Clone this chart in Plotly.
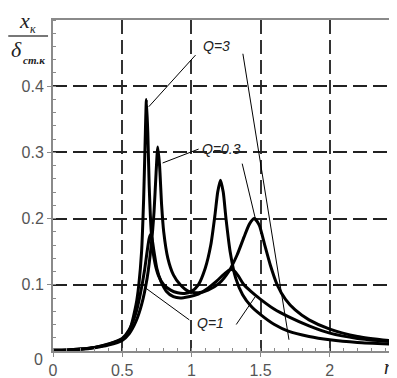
import plotly.graph_objects as go

# ---------------- data ----------------
eta_q3 = [0, 0.1, 0.2, 0.3, 0.4, 0.5, 0.55, 0.6, 0.62, 0.64, 0.655, 0.665, 0.675, 0.685, 0.695,
          0.71, 0.73, 0.76, 0.8, 0.85, 0.9, 0.95, 1.0, 1.05, 1.1, 1.14, 1.17, 1.19, 1.21, 1.23,
          1.25, 1.28, 1.32, 1.37, 1.43, 1.5, 1.6, 1.7, 1.85, 2.0, 2.2, 2.5]
amp_q3 = [0.001, 0.0015, 0.003, 0.0055, 0.010, 0.018, 0.03, 0.07, 0.10, 0.15, 0.23, 0.31, 0.38, 0.33, 0.25,
          0.18, 0.14, 0.115, 0.10, 0.092, 0.088, 0.087, 0.09, 0.10, 0.125, 0.16, 0.205, 0.24, 0.258, 0.24,
          0.20, 0.15, 0.11, 0.085, 0.068, 0.055, 0.04, 0.03, 0.022, 0.017, 0.013, 0.010]

eta_q03 = [0, 0.1, 0.2, 0.3, 0.4, 0.5, 0.55, 0.6, 0.64, 0.68, 0.71, 0.73, 0.745, 0.757, 0.77, 0.785,
           0.8, 0.83, 0.87, 0.92, 0.98, 1.05, 1.12, 1.2, 1.27, 1.33, 1.38, 1.42, 1.455, 1.49, 1.53,
           1.57, 1.62, 1.68, 1.75, 1.85, 2.0, 2.2, 2.5]
amp_q03 = [0.001, 0.0013, 0.0025, 0.005, 0.009, 0.016, 0.026, 0.045, 0.07, 0.11, 0.16, 0.21, 0.27, 0.308, 0.28, 0.22,
           0.18, 0.14, 0.115, 0.10, 0.09, 0.088, 0.092, 0.102, 0.12, 0.145, 0.172, 0.192, 0.20, 0.19, 0.16,
           0.13, 0.10, 0.078, 0.062, 0.047, 0.033, 0.022, 0.014]

eta_q1 = [0, 0.1, 0.2, 0.3, 0.4, 0.5, 0.55, 0.6, 0.63, 0.66, 0.68, 0.695, 0.705, 0.715, 0.73, 0.75,
          0.78, 0.82, 0.87, 0.92, 0.98, 1.05, 1.12, 1.18, 1.23, 1.27, 1.29, 1.31, 1.34, 1.38, 1.43,
          1.5, 1.6, 1.7, 1.85, 2.0, 2.2, 2.5]
amp_q1 = [0.001, 0.0015, 0.003, 0.0055, 0.0105, 0.019, 0.032, 0.058, 0.085, 0.12, 0.15, 0.17, 0.176, 0.17, 0.15, 0.125,
          0.105, 0.09, 0.082, 0.08, 0.082, 0.086, 0.095, 0.105, 0.115, 0.122, 0.123, 0.121, 0.113, 0.10, 0.09,
          0.078, 0.063, 0.052, 0.038, 0.027, 0.019, 0.013]

x_ticks = [0, 0.5, 1, 1.5, 2]
x_tick_text = ["0", "0.5", "1", "1.5", "2"]
y_ticks = [0.1, 0.2, 0.3, 0.4]
y_tick_text = ["0.1", "0.2", "0.3", "0.4"]

# labels with their leader lines (data coordinates)
labels = ["<i>Q=3</i>", "<i>Q=0.3</i>", "<i>Q=1</i>"]
label_pos = [(1.18, 0.461), (1.216, 0.305), (1.138, 0.042)]
leaders = [
    [(1.03, 0.447, 0.692, 0.369), (1.372, 0.449, 1.705, 0.017)],
    [(1.052, 0.305, 0.792, 0.284), (1.367, 0.283, 1.461, 0.201)],
    [(0.985, 0.047, 0.67, 0.095), (1.324, 0.040, 1.461, 0.082)],
]

# ---------------- figure ----------------
W, H = 397, 378
ML, MR, MT, MB = 45, 4, 12, 35
PW, PH = W - ML - MR, H - MT - MB


def px2paper(px, py):
    return (px - ML) / PW, (H - MB - py) / PH


fig = go.Figure()
for ex, ay in [(eta_q3, amp_q3), (eta_q03, amp_q03), (eta_q1, amp_q1)]:
    fig.add_trace(go.Scatter(x=ex, y=ay, mode="lines",
                             line=dict(color="black", width=3, shape="spline", smoothing=0.6),
                             showlegend=False, hoverinfo="skip"))

shapes = []
for group in leaders:
    for x0, y0, x1, y1 in group:
        shapes.append(dict(type="line", xref="x", yref="y", x0=x0, y0=y0, x1=x1, y1=y1,
                           line=dict(color="black", width=1)))
# fraction bar of the y label
fx0, fy = px2paper(0, 28)
fx1, _ = px2paper(40, 28)
shapes.append(dict(type="line", xref="paper", yref="paper", x0=fx0, x1=fx1, y0=fy, y1=fy,
                   line=dict(color="#777777", width=2)))

annotations = []
for txt, (ax_, ay_) in zip(labels, label_pos):
    annotations.append(dict(x=ax_, y=ay_, xref="x", yref="y", text=txt, showarrow=False,
                            font=dict(family="Liberation Sans, Arial", size=14, color="#222222")))


def add_px_text(text, px, py, size, family="Liberation Serif, Times New Roman", color="#222222"):
    xp, yp = px2paper(px, py)
    annotations.append(dict(x=xp, y=yp, xref="paper", yref="paper", text=text, showarrow=False,
                            xanchor="center", yanchor="middle",
                            font=dict(family=family, size=size, color=color)))


add_px_text("<i>x</i>", 16, 12, 22)
add_px_text("<i>к</i>", 25, 21, 12)
add_px_text("<i>δ</i>", 8, 41, 22)
add_px_text("<i><b>ст.к</b></i>", 26, 52, 11)
add_px_text("<i>η</i>", 383, 359, 20)
add_px_text("0", 30, 351, 16, family="Liberation Sans, Arial", color="#555555")

fig.update_layout(
    width=W, height=H,
    margin=dict(l=ML, r=MR, t=MT, b=MB),
    paper_bgcolor="white", plot_bgcolor="white",
    shapes=shapes, annotations=annotations,
    xaxis=dict(range=[0, 2.5], tickvals=x_ticks, ticktext=x_tick_text,
               showgrid=True, gridcolor="#333333", gridwidth=1.5, griddash="14px,6px",
               zeroline=False, showline=True, linecolor="#8a8a8a", linewidth=2, mirror=True,
               ticks="outside", ticklen=4, tickcolor="#8a8a8a",
               minor=dict(dtick=0.1, ticks="inside", ticklen=3, tickcolor="#8a8a8a", showgrid=False),
               tickfont=dict(family="Liberation Sans, Arial", size=16, color="#555555")),
    yaxis=dict(range=[0, 0.5], tickvals=y_ticks, ticktext=y_tick_text,
               showgrid=True, gridcolor="#222222", gridwidth=1.5, griddash="14px,6px",
               zeroline=False, showline=True, linecolor="#8a8a8a", linewidth=2, mirror=True,
               ticks="outside", ticklen=4, tickcolor="#8a8a8a",
               minor=dict(dtick=0.02, ticks="inside", ticklen=3, tickcolor="#8a8a8a", showgrid=False),
               tickfont=dict(family="Liberation Sans, Arial", size=16, color="#555555")),
)

fig.write_html("out.html")
